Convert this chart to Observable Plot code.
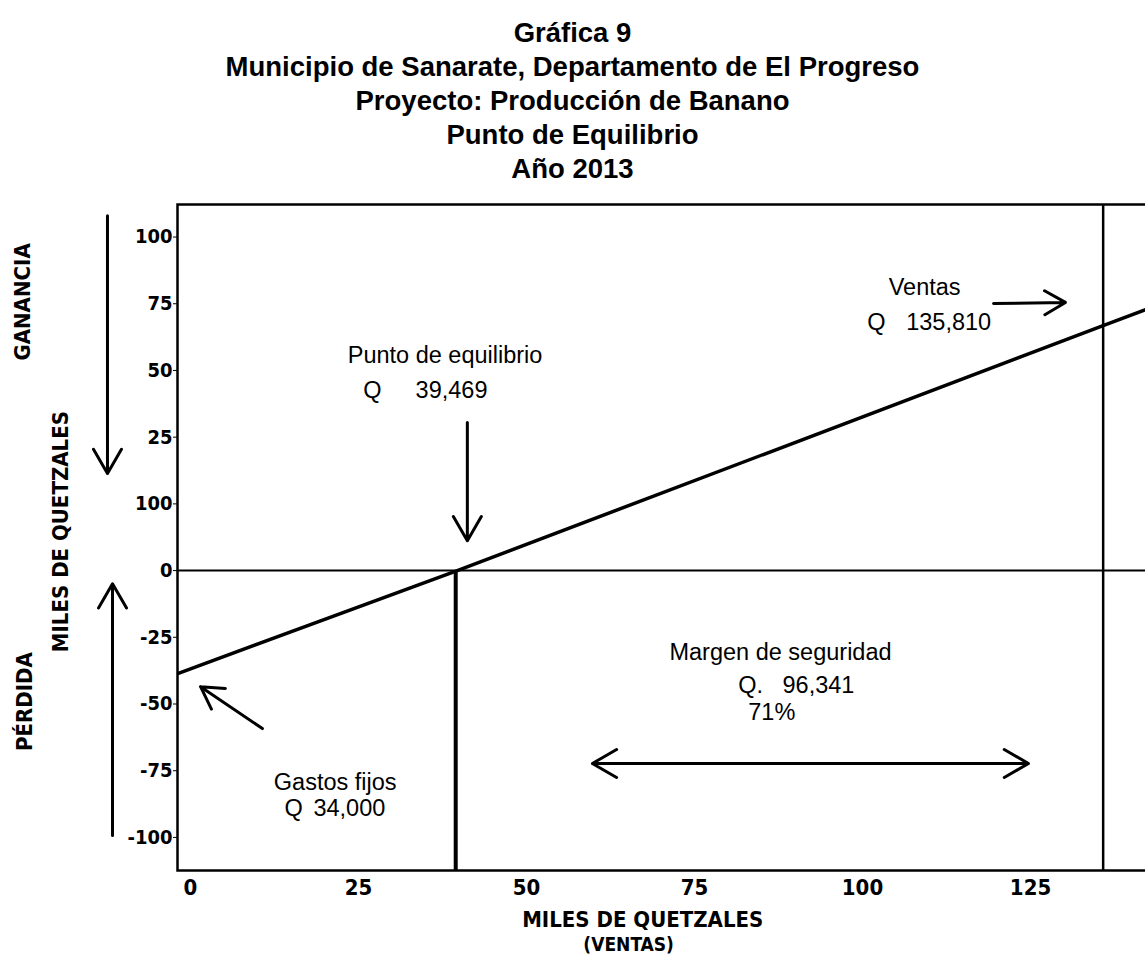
<!DOCTYPE html>
<html><head><meta charset="utf-8">
<script src="https://cdn.jsdelivr.net/npm/d3@7"></script>
<script src="https://cdn.jsdelivr.net/npm/@observablehq/plot@0.6"></script>
<style>
html,body{margin:0;padding:0;background:#fff;overflow:hidden;width:1145px;height:959px}
#title{height:185px;text-align:center;font:bold 27.5px "Liberation Sans",Arial,sans-serif;color:#000;line-height:34px;padding-top:16px;box-sizing:border-box}
#chart{width:1145px;overflow:hidden}
#chart svg{display:block;max-width:none !important;width:1160px;height:774px}
</style></head><body>
<div id="title">
<div>Gráfica 9</div>
<div>Municipio de Sanarate, Departamento de El Progreso</div>
<div>Proyecto: Producción de Banano</div>
<div>Punto de Equilibrio</div>
<div>Año 2013</div>
</div>
<div id="chart"></div>
<script>
// Data (thousands of quetzales)
const salesPts = [-1.9, 39.7, 135.8, 143.4];
const profitPts = [-38.6, 0, 91.8, 99.0];
const breakEven = 39.469;
const salesTotal = 135.81;
const xTicks = [0, 25, 50, 75, 100, 125];
const yTickValues = [-100, -75, -50, -25, 0, 25, 50, 75, 100, 125];
const yTickLabels = ["-100", "-75", "-50", "-25", "0", "100", "25", "50", "75", "100"];

// Annotation texts
const noteText = ["Punto de equilibrio", "Q", "39,469", "Ventas", "Q", "135,810",
  "Margen de seguridad", "Q.", "96,341", "71%", "Gastos fijos", "Q", "34,000"];
// annotation placement (data units)
const noteX = [23.4, 25.7, 33.5, 103.9, 100.7, 106.5, 87.8, 81.5, 88.1, 86.5, 12.4, 14.0, 18.3];
const noteY = [80.6, 67.5, 67.5, 106.1, 93.0, 93.0, -30.7, -43.1, -43.1, -53.2, -79.5, -89.2, -89.2];
const noteAnchor = ["start", "start", "start", "start", "start", "start",
  "middle", "start", "start", "middle", "start", "start", "start"];

const arrows = [
  {x1: 41.2, y1: 55.5, x2: 41.2, y2: 11.2},
  {x1: 119.5, y1: 100.1, x2: 130.2, y2: 100.5},
  {x1: 10.7, y1: -59.2, x2: 1.5, y2: -43.5},
  {x1: 92.2, y1: -72.3, x2: 59.8, y2: -72.3},
  {x1: 92.2, y1: -72.3, x2: 124.7, y2: -72.3},
  {x1: -12.35, y1: 133, x2: -12.35, y2: 36.4},
  {x1: -11.6, y1: -99.3, x2: -11.6, y2: -4.9}
];

const sideLabels = [
  {t: "GANANCIA", x: -24.9, y: 100.7},
  {t: "MILES DE QUETZALES", x: -19.2, y: 14.6},
  {t: "PÉRDIDA", x: -24.7, y: -49.1}
];
const bottomLabels = [
  {t: "MILES DE QUETZALES", x: 67.3, y: -130.8, s: 22},
  {t: "(VENTAS)", x: 65.2, y: -140.2, s: 19}
];

const line = salesPts.map((s, i) => ({s, p: profitPts[i]}));
const notes = noteText.map((t, i) => ({t, x: noteX[i], y: noteY[i], a: noteAnchor[i]}));
const narrow = '"Liberation Sans Narrow","DejaVu Sans Condensed","Arial Narrow",sans-serif';
const sans = '"Liberation Sans",Arial,sans-serif';
const textOpts = {x: "x", y: "y", text: "t", fontSize: 23.5, fontFamily: sans, fill: "#000"};

const chart = Plot.plot({
  width: 1160,
  height: 774,
  marginLeft: 177,
  marginRight: 6,
  marginTop: 19,
  marginBottom: 89,
  style: {fontFamily: sans, color: "#000", background: "#fff"},
  x: {domain: [-1.93, 143.45]},
  y: {domain: [-112.4, 137.2]},
  marks: [
    Plot.ruleY([0], {stroke: "#000", strokeWidth: 2}),
    Plot.ruleX([breakEven], {y1: 0, y2: -112.4, stroke: "#000", strokeWidth: 4}),
    Plot.ruleX([salesTotal], {stroke: "#000", strokeWidth: 2.5}),
    Plot.line(line, {x: "s", y: "p", stroke: "#000", strokeWidth: 3.5, clip: true}),
    Plot.frame({stroke: "#000", strokeWidth: 2.5}),
    Plot.axisX({ticks: xTicks, tickSize: 0, tickPadding: 9, fontSize: 22, fontWeight: "bold", fontFamily: narrow, label: null}),
    Plot.axisY({ticks: yTickValues, tickFormat: (d) => yTickLabels[yTickValues.indexOf(d)], tickSize: 4, tickPadding: 1, fontSize: 20, fontWeight: "bold", fontFamily: narrow, label: null}),
    Plot.text(notes.filter((d) => d.a === "start"), {...textOpts, textAnchor: "start"}),
    Plot.text(notes.filter((d) => d.a === "middle"), {...textOpts, textAnchor: "middle"}),
    Plot.arrow(arrows, {x1: "x1", y1: "y1", x2: "x2", y2: "y2", stroke: "#000", strokeWidth: 3, headLength: 14}),
    Plot.text(sideLabels, {x: "x", y: "y", text: "t", rotate: -90, fontSize: 22, fontWeight: 900, fontFamily: narrow, fill: "#000"}),
    Plot.text(bottomLabels, {x: "x", y: "y", text: "t", fontSize: (d) => d.s, fontWeight: 900, fontFamily: narrow, fill: "#000"})
  ]
});
chart.style.maxWidth = "none";
chart.style.width = "1160px";
chart.style.height = "774px";
document.getElementById("chart").appendChild(chart);
</script>
</body></html>
